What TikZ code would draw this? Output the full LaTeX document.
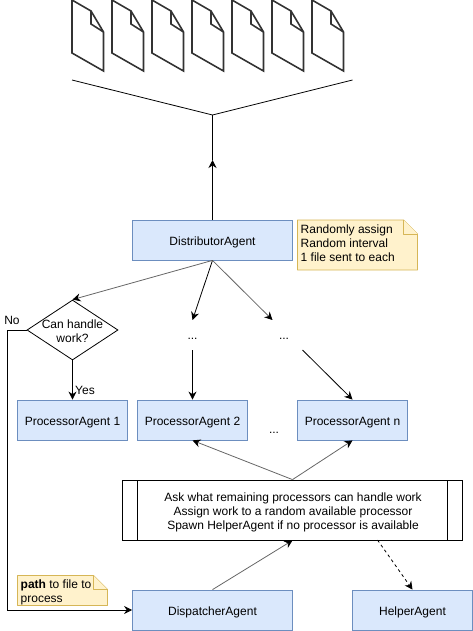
\documentclass[tikz,border=0pt]{standalone}
\usepackage{fontspec}
\setmainfont{Liberation Sans}
\usetikzlibrary{arrows.meta,shapes.geometric}
\definecolor{agentfill}{HTML}{DAE8FC}
\definecolor{agentframe}{HTML}{6C8EBF}
\definecolor{notefill}{HTML}{FFF2CC}
\definecolor{noteframe}{HTML}{D6B656}
\definecolor{filedark}{HTML}{333333}
\definecolor{softline}{HTML}{666666}

\begin{document}
\begin{tikzpicture}[
    x=1pt,
    y=-1pt,
    >={Stealth[length=8pt,width=8pt]},
    every node/.style={font=\fontsize{12}{14}\selectfont},
    agentbox/.style={
        rectangle,
        draw=agentframe,
        fill=agentfill,
        line width=0.8pt,
        minimum height=40pt,
        text height=11pt,
        text depth=1pt,
        inner sep=0pt
    },
    notebox/.style={
        draw=noteframe,
        fill=notefill,
        line width=0.8pt,
        line join=round
    },
    notetext/.style={anchor=north west, align=left, inner sep=0pt},
    arrow/.style={->, line width=0.8pt},
    softarrow/.style={-{Stealth[length=8pt,width=8pt,black]}, line width=0.8pt, softline},
    filesheet/.style={draw=filedark, line width=1.6pt, line join=miter}
]
    \useasboundingbox (0,0) rectangle (473,631);

    % Files
    \foreach \i in {0,...,6}{
        \begin{scope}[xshift=40*\i]
            \draw[filesheet] (72,0) -- (91,11) -- (103.5,32) -- (103.5,71) -- (72,53) -- cycle;
            \draw[filesheet] (91,11) -- (91,24) -- (103.5,32);
        \end{scope}
    }

    % Funnel
    \coordinate (funnelleft) at (72,80);
    \coordinate (funnelright) at (352.5,80);
    \coordinate (funnelmid) at (212.5,115);
    \coordinate (funnelstem) at (212.5,160);
    \draw[line width=0.8pt] (funnelleft) -- (funnelmid) -- (funnelright);
    \draw[line width=0.8pt] (funnelmid) -- (funnelstem);

    % Agents
    \node[agentbox, minimum width=160pt] (distributor) at (212.5,240) {DistributorAgent};
    \node[agentbox, minimum width=110pt] (proc1) at (72.5,420) {ProcessorAgent 1};
    \node[agentbox, minimum width=110pt] (proc2) at (192.5,420) {ProcessorAgent 2};
    \node[agentbox, minimum width=110pt] (procn) at (352.5,420) {ProcessorAgent n};
    \node[agentbox, minimum width=160pt] (dispatcher) at (212.5,610) {DispatcherAgent};
    \node[agentbox, minimum width=120pt] (helper) at (412.5,610) {HelperAgent};

    % Decision
    \node[diamond, draw, line width=0.8pt, minimum width=91pt, minimum height=60pt,
          inner sep=0pt, align=center, aspect=1.5] (canhandle) at (72.5,330) {};
    \node[align=center, inner sep=0pt] (canhandletext) at (72.5,331) {Can handle\\work?};

    % Placeholders
    \node (dots2) at (192.5,339) {...};
    \node (dotsn) at (284,339) {...};
    \node (dotsrow) at (274,433) {...};
    \coordinate (dots2top) at (192.5,320);
    \coordinate (dots2bottom) at (192.5,350);
    \coordinate (dotsntop) at (272.5,320);
    \coordinate (dotsnbottom) at (302.5,350);

    % Predefined process
    \node[rectangle, draw, line width=0.8pt, fill=white, minimum width=340pt, minimum height=60pt,
          inner sep=0pt] (process) at (292.5,510) {};
    \node[align=center, inner sep=0pt] (processtext) at (293,512)
        {Ask what remaining processors can handle work\\
         Assign work to a random available processor\\
         Spawn HelperAgent if no processor is available};
    \draw[line width=0.8pt] (137.5,480) -- (137.5,540);
    \draw[line width=0.8pt] (447.5,480) -- (447.5,540);

    % Notes
    \draw[notebox] (297.5,220) -- (403.5,220) -- (417.5,234) -- (417.5,270) -- (297.5,270) -- cycle;
    \draw[notebox] (403.5,220) -- (403.5,234) -- (417.5,234);
    \node[notetext] (randomnote) at (300.5,225) {Randomly assign\\Random interval\\1 file sent to each};
    \draw[notebox] (17.5,575.5) -- (93.5,575.5) -- (107.5,589.5) -- (107.5,605.5) -- (17.5,605.5) -- cycle;
    \draw[notebox] (93.5,575.5) -- (93.5,589.5) -- (107.5,589.5);
    \node[notetext] (pathnote) at (20.5,579.5) {\textbf{path} to file to\\process};

    % Labels
    \node (nolabel) at (12,320) {No};
    \node (yeslabel) at (85,390) {Yes};

    % Connectors
    \draw[arrow] (distributor.north) -- (funnelstem);
    \draw[softarrow] (distributor.south) -- (canhandle.north);
    \draw[arrow] (distributor.south) -- (dots2top);
    \draw[softarrow] (distributor.south) -- (dotsntop);
    \draw[arrow] (dots2bottom) -- (proc2.north);
    \draw[arrow] (dotsnbottom) -- (procn.north);
    \draw[arrow] (canhandle.south) -- (proc1.north);
    \draw[arrow] (canhandle.west) -- (7.5,330) |- (dispatcher.west);
    \draw[softarrow] (process.north) -- (proc2.south);
    \draw[softarrow] (process.north) -- (procn.south);
    \draw[softarrow] (dispatcher.north) -- (process.south);
    \draw[arrow, dashed] (377.5,540) -- (helper.north);
\end{tikzpicture}
\end{document}
